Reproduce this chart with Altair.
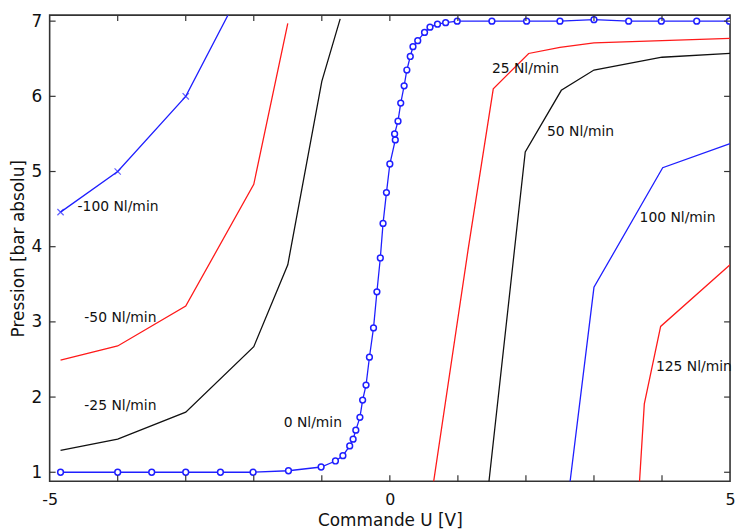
import altair as alt
import pandas as pd

# ---- data ----
m100_x = [-4.84, -4.0, -3.0, -2.0]
m100_y = [4.46, 5.0, 6.0, 7.74]

m50_x = [-4.84, -4.0, -3.0, -2.0, -1.5]
m50_y = [2.49, 2.68, 3.21, 4.83, 6.97]

m25_x = [-4.84, -4.0, -3.0, -2.0, -1.5, -1.0, -0.73]
m25_y = [1.29, 1.44, 1.80, 2.67, 3.76, 6.20, 7.03]

z0_x = [-4.84, -4.0, -3.5, -3.0, -2.49, -2.01, -1.49, -1.01, -0.80, -0.69, -0.59,
        -0.54, -0.50, -0.44, -0.40, -0.35, -0.30, -0.24, -0.19, -0.14, -0.10,
        -0.05, 0.00, 0.08, 0.07, 0.12, 0.16, 0.21, 0.25, 0.30, 0.34, 0.41, 0.51,
        0.59, 0.70, 0.82, 0.99, 1.50, 2.01, 2.50, 3.00, 3.51, 3.99, 4.51, 4.99]
z0_y = [1.00, 1.00, 1.00, 1.00, 1.00, 1.00, 1.02, 1.07, 1.15, 1.22, 1.35,
        1.44, 1.56, 1.73, 1.96, 2.16, 2.53, 2.92, 3.40, 3.85, 4.31,
        4.72, 5.10, 5.42, 5.50, 5.67, 5.91, 6.14, 6.35, 6.53, 6.66, 6.74, 6.85,
        6.92, 6.96, 6.98, 7.00, 7.00, 7.00, 7.00, 7.02, 7.00, 7.00, 7.00, 7.00]

p25_x = [0.50, 1.15, 1.52, 2.04, 2.50, 3.00, 4.00, 5.00]
p25_y = [0.00, 3.96, 6.10, 6.57, 6.65, 6.71, 6.74, 6.77]

p50_x = [1.35, 1.99, 2.52, 3.00, 4.00, 5.00]
p50_y = [0.00, 5.26, 6.08, 6.35, 6.52, 6.57]

p100_x = [2.53, 3.00, 4.01, 5.00]
p100_y = [0.00, 3.46, 5.05, 5.37]

p125_x = [3.61, 3.74, 3.98, 5.00]
p125_y = [0.00, 1.91, 2.94, 3.76]

series_names = ["-100", "-50", "-25", "0", "25", "50", "100", "125"]
series_x = [m100_x, m50_x, m25_x, z0_x, p25_x, p50_x, p100_x, p125_x]
series_y = [m100_y, m50_y, m25_y, z0_y, p25_y, p50_y, p100_y, p125_y]
series_colors = ["#1f1fff", "#ff1a1a", "#111111", "#1f1fff",
                 "#ff1a1a", "#111111", "#1f1fff", "#ff1a1a"]

label_text = ["-100 Nl/min", "-50 Nl/min", "-25 Nl/min", "0 Nl/min",
              "25 Nl/min", "50 Nl/min", "100 Nl/min", "125 Nl/min"]
label_x = [-4.59, -4.49, -4.49, -1.56, 1.50, 2.31, 3.67, 3.91]
label_y = [4.53, 3.05, 1.88, 1.66, 6.36, 5.52, 4.38, 2.40]

x_ticks = [-4, -3, -2, -1, 0, 1, 2, 3, 4]
y_ticks = [1, 2, 3, 4, 5, 6, 7]
x_labels = [-5, 0, 5]

# ---- build tables ----
rows = []
for name, xs, ys in zip(series_names, series_x, series_y):
    for i, (xv, yv) in enumerate(zip(xs, ys)):
        rows.append({"s": name, "x": xv, "y": yv, "o": i})
df = pd.DataFrame(rows)
df_lab = pd.DataFrame({"x": label_x, "y": label_y, "t": label_text})
df_xt = pd.DataFrame({"x": x_ticks})
df_yt = pd.DataFrame({"y": y_ticks})

W, H = 686, 470
xs = alt.Scale(domain=[-5, 5], nice=False, zero=False)
ys = alt.Scale(domain=[0.88, 7.08], nice=False, zero=False)

x_axis = alt.Axis(values=x_labels, labelExpr="toString(datum.value)",
                  ticks=False, domain=False, grid=False,
                  labelFont="DejaVu Sans", labelFontSize=16, labelColor="#111",
                  labelPadding=10, labelFlush=False,
                  title="Commande U [V]", titleFont="DejaVu Sans", titleFontSize=17,
                  titleFontWeight="normal", titleColor="#111", titlePadding=6)
y_axis = alt.Axis(values=y_ticks, format="d", ticks=False, domain=False, grid=False,
                  labelFont="DejaVu Sans", labelFontSize=17, labelColor="#111",
                  labelPadding=8, labelFlush=False,
                  title="Pression [bar absolu]", titleFont="DejaVu Sans", titleFontSize=17,
                  titleFontWeight="normal", titleColor="#111", titlePadding=4)

color = alt.Color("s:N", scale=alt.Scale(domain=series_names, range=series_colors),
                  legend=None)

base = alt.Chart(df)
lines = base.mark_line(clip=True, strokeWidth=1.3).encode(
    x=alt.X("x:Q", scale=xs, axis=x_axis),
    y=alt.Y("y:Q", scale=ys, axis=y_axis),
    color=color, detail="s:N", order="o:Q")

circles = base.transform_filter(alt.datum.s == "0").mark_point(
    clip=True, shape="circle", size=34, filled=False, strokeWidth=1.5,
    color="#1f1fff", fill="white", fillOpacity=1).encode(
    x=alt.X("x:Q", scale=xs), y=alt.Y("y:Q", scale=ys))

crosses = base.transform_filter(alt.datum.s == "-100").mark_point(
    clip=True, shape="M-1,-1L1,1M-1,1L1,-1", size=40, filled=False,
    strokeWidth=1.2, color="#1f1fff").encode(
    x=alt.X("x:Q", scale=xs), y=alt.Y("y:Q", scale=ys))

labels = alt.Chart(df_lab).mark_text(
    align="left", baseline="middle", font="DejaVu Sans", fontSize=14,
    color="#111").encode(
    x=alt.X("x:Q", scale=xs), y=alt.Y("y:Q", scale=ys), text="t:N")

tick_len = 6
tb = alt.Chart(df_xt).mark_rule(color="#333", strokeWidth=1.2).encode(
    x=alt.X("x:Q", scale=xs), y=alt.value(H), y2=alt.value(H - tick_len))
tt = alt.Chart(df_xt).mark_rule(color="#333", strokeWidth=1.2).encode(
    x=alt.X("x:Q", scale=xs), y=alt.value(0), y2=alt.value(tick_len))
tl = alt.Chart(df_yt).mark_rule(color="#333", strokeWidth=1.2).encode(
    y=alt.Y("y:Q", scale=ys), x=alt.value(0), x2=alt.value(tick_len))
tr = alt.Chart(df_yt).mark_rule(color="#333", strokeWidth=1.2).encode(
    y=alt.Y("y:Q", scale=ys), x=alt.value(W), x2=alt.value(W - tick_len))

chart = alt.layer(lines, crosses, circles, labels, tb, tt, tl, tr).properties(
    width=W, height=H,
    autosize=alt.AutoSizeParams(type="none"),
    padding={"left": 42, "top": 5, "right": 5, "bottom": 55},
).configure_view(stroke="#333", strokeWidth=1.6)

chart.save("out.html", embed_options={"renderer": "svg", "actions": False})
